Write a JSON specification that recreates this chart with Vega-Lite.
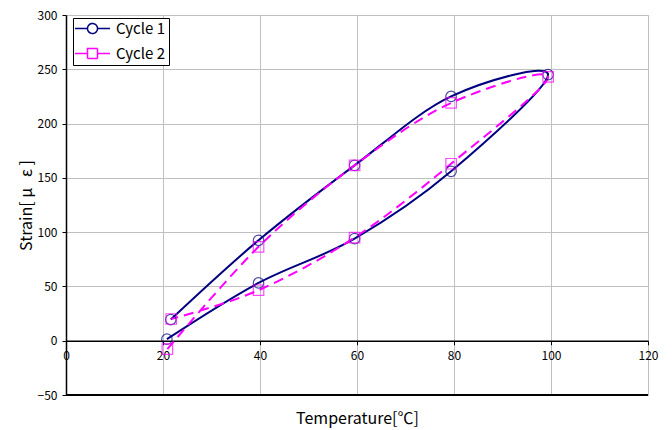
{
  "$schema": "https://vega.github.io/schema/vega-lite/v6.json",
  "autosize": "none",
  "padding": {"left": 66, "top": 15, "right": 24, "bottom": 35},
  "width": 582,
  "height": 380,
  "background": "white",
  "config": {
    "view": {"stroke": "#c0c0c0", "strokeWidth": 1},
    "font": "Noto Sans CJK JP",
    "axis": {
      "gridColor": "#c0c0c0",
      "gridWidth": 1,
      "domainColor": "#000000",
      "tickColor": "#000000",
      "labelColor": "#000000",
      "titleColor": "#000000",
      "labelFont": "Noto Sans CJK JP",
      "titleFont": "Noto Sans CJK JP",
      "labelFontSize": 12,
      "titleFontSize": 16,
      "titleFontWeight": "normal"
    }
  },
  "data": {
    "values": [
      {"series": "Cycle 1", "ord": 1, "temp": 20.8, "strain": 1.4},
      {"series": "Cycle 1", "ord": 2, "temp": 39.7, "strain": 53.2},
      {"series": "Cycle 1", "ord": 3, "temp": 59.5, "strain": 94},
      {"series": "Cycle 1", "ord": 4, "temp": 79.4, "strain": 156},
      {"series": "Cycle 1", "ord": 5, "temp": 99.4, "strain": 245},
      {"series": "Cycle 1", "ord": 6, "temp": 79.4, "strain": 225},
      {"series": "Cycle 1", "ord": 7, "temp": 59.5, "strain": 161.5},
      {"series": "Cycle 1", "ord": 8, "temp": 39.7, "strain": 92.5},
      {"series": "Cycle 1", "ord": 9, "temp": 21.6, "strain": 19.5},
      {"series": "Cycle 2", "ord": 1, "temp": 20.9, "strain": -7.8},
      {"series": "Cycle 2", "ord": 2, "temp": 39.7, "strain": 86.5},
      {"series": "Cycle 2", "ord": 3, "temp": 59.5, "strain": 161.5},
      {"series": "Cycle 2", "ord": 4, "temp": 79.4, "strain": 219},
      {"series": "Cycle 2", "ord": 5, "temp": 99.4, "strain": 243},
      {"series": "Cycle 2", "ord": 6, "temp": 79.4, "strain": 163},
      {"series": "Cycle 2", "ord": 7, "temp": 59.5, "strain": 95},
      {"series": "Cycle 2", "ord": 8, "temp": 39.7, "strain": 46.5},
      {"series": "Cycle 2", "ord": 9, "temp": 21.7, "strain": 20}
    ]
  },
  "encoding": {
    "x": {
      "field": "temp",
      "type": "quantitative",
      "scale": {"domain": [0, 120], "nice": false, "zero": false},
      "axis": {
        "title": "Temperature[℃]",
        "values": [0, 20, 40, 60, 80, 100, 120],
        "offset": -54.29,
        "tickSize": 4,
        "labelPadding": 6,
        "titlePadding": 49,
        "domainWidth": 1.5,
        "labelFlush": false
      }
    },
    "y": {
      "field": "strain",
      "type": "quantitative",
      "scale": {"domain": [-50, 300], "nice": false, "zero": false},
      "axis": {
        "title": "Strain[\u00a0μ\u00a0\u00a0\u00a0ε\u00a0]",
        "values": [-50, 0, 50, 100, 150, 200, 250, 300],
        "tickSize": 4,
        "labelPadding": 5,
        "titlePadding": 3,
        "domainWidth": 1.5
      }
    },
    "color": {
      "field": "series",
      "type": "nominal",
      "scale": {"domain": ["Cycle 1", "Cycle 2"], "range": ["#000080", "#FF00FF"]},
      "legend": {
        "title": null,
        "orient": "none",
        "legendX": 7,
        "legendY": 3,
        "padding": 3,
        "strokeColor": "#000000",
        "fillColor": "#ffffff",
        "symbolSize": 100,
        "symbolOffset": 9,
        "labelOffset": 16,
        "labelFontSize": 15,
        "labelFont": "Noto Sans CJK JP",
        "labelColor": "#000000",
        "rowPadding": 8,
        "symbolStrokeWidth": 1.5,
        "symbolDash": [1, 0],
        "encode": {
          "symbols": {
            "update": {
              "shape": {"signal": "datum.value === 'Cycle 1' ? 'M-3.5,0L-1,0M1,0L3.5,0M-1,0A1,1,0,1,1,1,0A1,1,0,1,1,-1,0' : 'M-3.5,0L-1,0M1,0L3.5,0M-1,-1L1,-1L1,1L-1,1Z'"},
              "fill": {"value": "#ffffff"},
              "fillOpacity": {"value": 1},
              "strokeDash": {"value": [1, 0]}
            }
          }
        }
      }
    }
  },
  "layer": [
    {
      "mark": {"type": "rule", "color": "#000000", "strokeWidth": 1.5},
      "encoding": {"y": {"datum": -50}, "x": null, "color": null}
    },
    {
      "transform": [{"filter": "datum.series === 'Cycle 1'"}],
      "mark": {"type": "line", "interpolate": "cardinal", "strokeWidth": 2},
      "encoding": {"order": {"field": "ord", "type": "quantitative"}}
    },
    {
      "transform": [{"filter": "datum.series === 'Cycle 2'"}],
      "mark": {"type": "line", "interpolate": "cardinal", "strokeWidth": 2, "strokeDash": [10, 6]},
      "encoding": {"order": {"field": "ord", "type": "quantitative"}}
    },
    {
      "transform": [{"filter": "datum.series === 'Cycle 1'"}],
      "mark": {"type": "point", "shape": "circle", "filled": false, "size": 110, "strokeWidth": 1.2}
    },
    {
      "transform": [{"filter": "datum.series === 'Cycle 2'"}],
      "mark": {"type": "point", "shape": "square", "filled": false, "size": 110, "strokeWidth": 1.2}
    }
  ]
}
